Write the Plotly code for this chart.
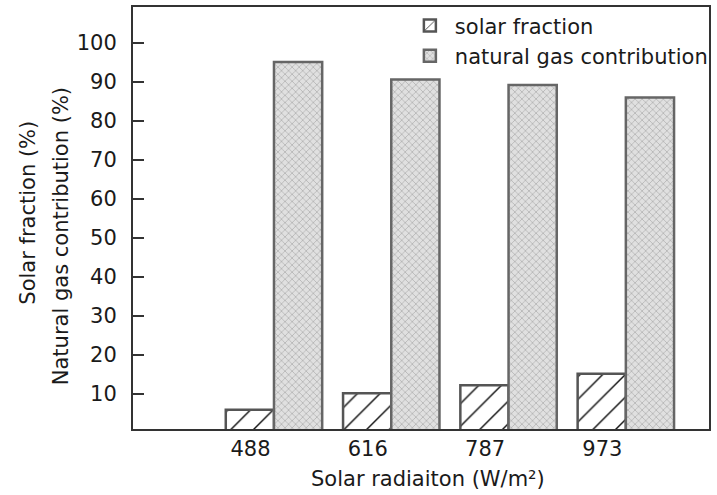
import plotly.graph_objects as go

categories = ["488", "616", "787", "973"]
solar_fraction = [5.9, 10.1, 12.2, 15.1]
natural_gas = [95.1, 90.6, 89.2, 86.0]
y_ticks = [10, 20, 30, 40, 50, 60, 70, 80, 90, 100]

FONT = "DejaVu Sans"
FS = 21
TXT = "#1a1a1a"

xpos = list(range(len(categories)))
bw = 0.411

fig = go.Figure()
fig.add_trace(go.Bar(
    x=xpos, y=solar_fraction, name="solar fraction",
    width=bw, offset=-bw,
    marker=dict(color="white",
                line=dict(color="#555555", width=2.5),
                pattern=dict(shape="/", size=16, solidity=0.09,
                             fgcolor="#111111", bgcolor="white", fillmode="replace")),
))
fig.add_trace(go.Bar(
    x=xpos, y=natural_gas, name="natural gas contribution",
    width=bw, offset=0,
    marker=dict(color="#d4d4d4",
                line=dict(color="#666666", width=2.5),
                pattern=dict(shape="x", size=5, solidity=0.3,
                             fgcolor="#b4b4b4", bgcolor="#e0e0e0", fillmode="replace")),
))

fig.update_layout(
    width=717, height=495,
    margin=dict(l=133, r=4, t=6.5, b=65.5),
    paper_bgcolor="white", plot_bgcolor="white",
    barmode="overlay",
    showlegend=True,
    font=dict(family=FONT, size=FS, color=TXT),
    legend=dict(x=0.472, y=1.004, xanchor="left", yanchor="top",
                bgcolor="rgba(0,0,0,0)", borderwidth=0,
                font=dict(family=FONT, size=FS, color=TXT),
                itemwidth=40, tracegroupgap=0),
    xaxis=dict(range=[-1.202, 3.709],
               tickvals=[p - 0.2 for p in xpos], ticktext=categories,
               showgrid=False, zeroline=False, ticks="",
               showline=True, linecolor="#333333", linewidth=2, mirror=True,
               tickfont=dict(family=FONT, size=FS, color=TXT)),
    yaxis=dict(range=[0.95, 109.2], tickvals=y_ticks,
               showgrid=False, zeroline=False,
               ticks="inside", ticklen=11, tickwidth=2, tickcolor="#333333",
               ticklabelstandoff=10,
               showline=True, linecolor="#333333", linewidth=2, mirror=True,
               tickfont=dict(family=FONT, size=FS, color=TXT)),
    annotations=[
        dict(text="Solar fraction (%)", xref="paper", yref="paper",
             x=-0.1828, y=0.512, xanchor="center", yanchor="middle",
             textangle=-90, showarrow=False,
             font=dict(family=FONT, size=FS, color=TXT)),
        dict(text="Natural gas contribution (%)", xref="paper", yref="paper",
             x=-0.1259, y=0.458, xanchor="center", yanchor="middle",
             textangle=-90, showarrow=False,
             font=dict(family=FONT, size=FS, color=TXT)),
        dict(text="Solar radiaiton (W/m²)", xref="paper", yref="paper",
             x=0.512, y=-0.1194, xanchor="center", yanchor="middle",
             showarrow=False,
             font=dict(family=FONT, size=FS, color=TXT)),
    ],
)

fig.write_html("out.html",
               config={"displayModeBar": False},
               post_script="document.body.style.margin='0';document.body.style.overflow='hidden';")
